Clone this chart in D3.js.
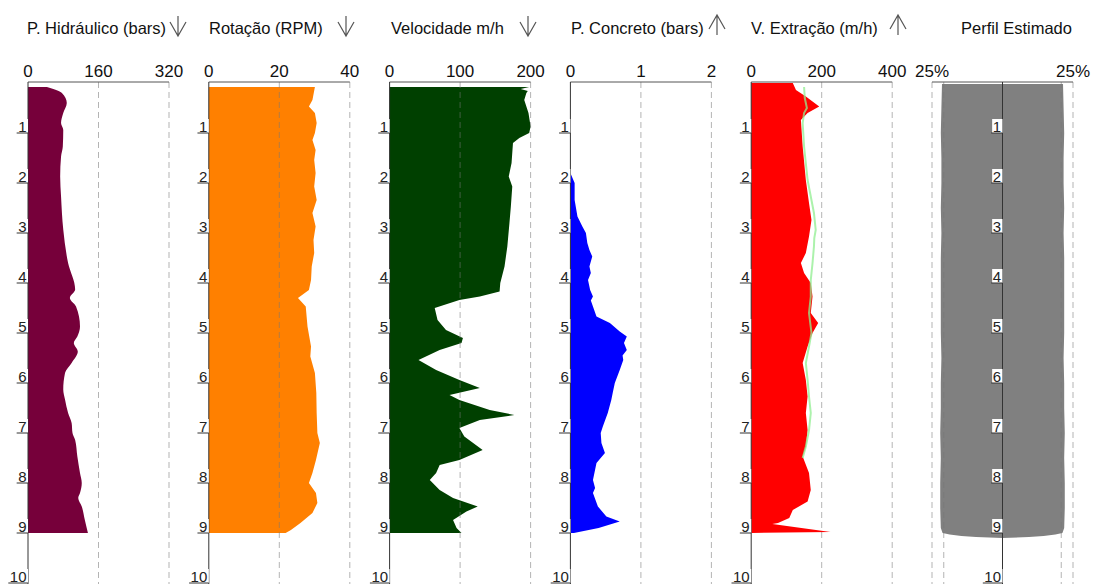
<!DOCTYPE html>
<html>
<head>
<meta charset="utf-8">
<script src="https://cdn.jsdelivr.net/npm/d3@7"></script>
<style>
    body { margin: 0; background: #fff; }
    svg { display: block; font-family: "Liberation Sans", Arial, sans-serif; }
</style>
</head>
<body>
<svg id="chart" width="1099" height="584"></svg>
<script>
const profHidraulico = [0.08, 0.2, 0.4, 0.6, 0.8, 0.94, 1.27, 1.47, 1.87, 2.27, 2.93, 3.6, 4.13, 4.3, 4.47, 4.87, 5.07, 5.2, 5.37, 5.6, 5.8, 6.13, 6.33, 6.6, 6.8, 7.0, 7.14, 7.47, 7.8, 8.0, 8.2, 8.3, 8.47, 8.74, 9.0];
const hidraulico = [43, 77, 88, 80, 75, 80, 79, 75, 73, 75, 80, 91, 107, 95, 109, 118, 112, 104, 113, 99, 84, 80, 84, 91, 99, 101, 107, 112, 118, 122, 118, 114, 122, 129, 136];

const profRotacao = [0.08, 0.34, 0.47, 0.6, 0.8, 1.0, 1.14, 1.34, 1.54, 1.8, 2.07, 2.34, 2.6, 2.87, 3.14, 3.4, 3.67, 3.94, 4.14, 4.3, 4.47, 4.87, 5.27, 5.47, 5.8, 6.2, 6.6, 7.0, 7.2, 7.54, 7.8, 8.0, 8.2, 8.4, 8.6, 8.8, 8.94, 9.0];
const rotacao = [30.1, 29.4, 28.4, 30.1, 30.6, 30.1, 29.4, 30.3, 29.9, 30.3, 29.9, 30.6, 29.4, 30.3, 29.7, 29.9, 29.2, 29.0, 28.4, 25.3, 27.5, 28.0, 29.0, 28.8, 30.1, 30.5, 30.6, 30.8, 31.5, 30.4, 29.4, 28.4, 30.4, 30.8, 29.4, 26.0, 23.3, 21.8];

const profVelocidade = [0.08, 0.12, 0.16, 0.2, 0.34, 0.6, 0.87, 1.0, 1.1, 1.2, 1.6, 1.87, 2.07, 2.47, 2.8, 3.27, 3.67, 4.0, 4.17, 4.27, 4.34, 4.5, 4.74, 4.94, 5.1, 5.2, 5.34, 5.54, 5.74, 5.94, 6.1, 6.24, 6.34, 6.54, 6.64, 6.74, 6.9, 7.07, 7.34, 7.54, 7.64, 7.8, 7.94, 8.14, 8.3, 8.47, 8.57, 8.74, 8.9, 9.0];
const velocidade = [198, 186, 196, 194, 191, 197, 200, 198, 184, 175, 173, 169, 174, 172, 170, 167, 163, 157, 156, 128, 99, 64, 68, 80, 104, 102, 71, 41, 66, 99, 128, 85, 99, 142, 177, 128, 99, 106, 132, 99, 71, 66, 57, 71, 90, 125, 109, 90, 95, 102];

const profConcreto = [1.8, 2.0, 2.34, 2.67, 2.87, 3.0, 3.2, 3.34, 3.47, 3.67, 3.8, 3.94, 4.14, 4.27, 4.35, 4.47, 4.67, 4.8, 4.97, 5.07, 5.2, 5.34, 5.45, 5.54, 5.74, 6.0, 6.2, 6.34, 6.6, 6.87, 7.0, 7.2, 7.4, 7.6, 7.94, 8.1, 8.2, 8.47, 8.67, 8.77, 8.9, 9.0];
const concreto = [0, 0.06, 0.06, 0.1, 0.17, 0.22, 0.24, 0.27, 0.31, 0.27, 0.29, 0.25, 0.28, 0.32, 0.29, 0.32, 0.37, 0.56, 0.7, 0.8, 0.76, 0.8, 0.74, 0.75, 0.7, 0.63, 0.6, 0.58, 0.53, 0.46, 0.43, 0.44, 0.49, 0.37, 0.32, 0.35, 0.32, 0.39, 0.51, 0.7, 0.4, 0.05];

const profExtracao = [0.0, 0.14, 0.27, 0.47, 0.6, 0.74, 1.27, 1.94, 2.4, 2.74, 3.07, 3.4, 3.6, 3.8, 4.0, 4.27, 4.6, 4.8, 5.0, 5.27, 5.6, 5.94, 6.27, 6.6, 6.94, 7.27, 7.47, 7.8, 8.14, 8.37, 8.54, 8.7, 8.8, 8.82, 8.98, 9.0];
const extracao = [118, 127, 155, 193, 160, 141, 146, 155, 164, 171, 164, 155, 141, 150, 169, 174, 169, 190, 174, 160, 146, 155, 160, 155, 160, 155, 146, 164, 169, 160, 118, 108, 76, 60, 225, 0];

const profLinhaExt = [0.08, 0.3, 0.5, 0.6, 0.8, 1.27, 1.94, 2.27, 2.6, 2.94, 3.1, 3.27, 3.6, 3.94, 4.27, 4.6, 5.0, 5.27, 5.6, 5.94, 6.27, 6.6, 6.94, 7.27, 7.5];
const linhaExt = [150, 152, 158, 150, 146, 150, 160, 169, 178, 183, 179, 178, 174, 169, 169, 164, 171, 164, 155, 160, 164, 169, 164, 155, 146];

const profPerfil = [0.02, 0.5, 1.0, 1.5, 2.0, 2.5, 3.0, 3.5, 4.0, 4.5, 5.0, 5.5, 6.0, 6.5, 7.0, 7.5, 8.0, 8.5, 8.9, 9.0, 9.03, 9.06, 9.08, 9.1];
const raioPerfil = [1.03, 1.04, 1.05, 1.04, 1.04, 1.05, 1.04, 1.05, 1.05, 1.05, 1.05, 1.04, 1.05, 1.05, 1.06, 1.05, 1.06, 1.06, 1.05, 1.02, 0.9, 0.7, 0.45, 0];

// eixos
const titulos = ["P. Hidráulico (bars)", "Rotação (RPM)", "Velocidade m/h", "P. Concreto (bars)", "V. Extração (m/h)", "Perfil Estimado"];
const ticksHidraulico = [0, 160, 320];
const ticksRotacao = [0, 20, 40];
const ticksVelocidade = [0, 100, 200];
const ticksConcreto = [0, 1, 2];
const ticksExtracao = [0, 200, 400];
const ticksPerfil = [-1.2, 1.2];
const labelsPerfil = ["25%", "25%"];
const gradePerfil = [-1.2, -1, 1, 1.2];
const profTicks = [1, 2, 3, 4, 5, 6, 7, 8, 9, 10];

const panels = [
    {domain: [0, 320], ticks: ticksHidraulico, color: "#76003a", prof: profHidraulico, vals: hidraulico, curve: d3.curveMonotoneY, arrow: "down", arrowX: 178, titleX: 27},
    {domain: [0, 40], ticks: ticksRotacao, color: "#ff8000", prof: profRotacao, vals: rotacao, curve: d3.curveLinear, arrow: "down", arrowX: 346, titleX: 209},
    {domain: [0, 200], ticks: ticksVelocidade, color: "#004000", prof: profVelocidade, vals: velocidade, curve: d3.curveLinear, arrow: "down", arrowX: 528, titleX: 391},
    {domain: [0, 2], ticks: ticksConcreto, color: "#0000ff", prof: profConcreto, vals: concreto, curve: d3.curveLinear, arrow: "up", arrowX: 717, titleX: 571},
    {domain: [0, 400], ticks: ticksExtracao, color: "#ff0000", prof: profExtracao, vals: extracao, curve: d3.curveLinear, arrow: "up", arrowX: 898, titleX: 751},
    {domain: [-1.2, 1.2], ticks: ticksPerfil, labels: labelsPerfil, grid: gradePerfil, color: "#808080", prof: profPerfil, vals: raioPerfil, curve: d3.curveLinear, arrow: null, titleX: 961, perfil: true}
];

const svg = d3.select("#chart");
const y = d3.scaleLinear().domain([0, 10]).range([83, 583]);
const panelW = 141;
const topY = 82;

panels.forEach(function (p, i) {
    const x0 = 28 + i * 180.8;
    const x = d3.scaleLinear().domain(p.domain).range([x0, x0 + panelW]);
    const g = svg.append("g");
    const rows = p.prof.map(function (d, k) { return {d: d, v: p.vals[k]}; });

    // preenchimento
    const area = d3.area()
        .curve(p.curve)
        .y(function (r) { return y(r.d); })
        .x0(function (r) { return p.perfil ? x(-r.v) : x(0); })
        .x1(function (r) { return x(r.v); });
    g.append("path")
        .datum(rows)
        .attr("d", area)
        .attr("fill", p.color);

    // linha extra (V. Extração)
    if (i === 4) {
        const line = d3.line()
            .x(function (k) { return x(linhaExt[k]); })
            .y(function (k) { return y(profLinhaExt[k]); });
        g.append("path")
            .datum(d3.range(linhaExt.length))
            .attr("d", line)
            .attr("fill", "none")
            .attr("stroke", "#90ee90")
            .attr("stroke-width", 2)
            .attr("stroke-opacity", 0.75);
    }

    // grade tracejada
    const grid = p.grid || p.ticks.slice(1);
    g.selectAll(".grid")
        .data(grid)
        .enter()
        .append("line")
        .attr("x1", function (t) { return x(t); })
        .attr("x2", function (t) { return x(t); })
        .attr("y1", topY)
        .attr("y2", 584)
        .attr("stroke", "#777")
        .attr("stroke-opacity", 0.55)
        .attr("stroke-dasharray", "6,4");

    // eixo superior
    g.append("line")
        .attr("x1", x0).attr("x2", x0 + panelW)
        .attr("y1", topY).attr("y2", topY)
        .attr("stroke", "#555");

    g.selectAll(".tl")
        .data(p.ticks)
        .enter()
        .append("text")
        .attr("x", function (t) { return x(t); })
        .attr("y", 77)
        .attr("text-anchor", "middle")
        .attr("font-size", 17)
        .attr("fill", "#111")
        .text(function (t, k) { return p.labels ? p.labels[k] : t; });

    // eixo de profundidade
    const ax = p.perfil ? x(0) : x0;
    g.append("line")
        .attr("x1", ax).attr("x2", ax)
        .attr("y1", topY).attr("y2", 584)
        .attr("stroke", "#333");

    profTicks.forEach(function (d) {
        const lg = g.append("g");
        const rect = lg.append("rect").attr("fill", "#fff");
        const txt = lg.append("text")
            .attr("x", ax - 1.5)
            .attr("y", y(d) - 1.5)
            .attr("text-anchor", "end")
            .attr("font-size", 15)
            .attr("fill", "#222")
            .text(d);
        const w = txt.node().getComputedTextLength();
        rect.attr("x", ax - w - 2).attr("y", y(d) - 14).attr("width", w + 2).attr("height", 14);
        lg.append("line")
            .attr("x1", ax - w - 3).attr("x2", ax)
            .attr("y1", y(d)).attr("y2", y(d))
            .attr("stroke", "#333");
    });

    // titulo e seta
    svg.append("text")
        .attr("x", p.titleX)
        .attr("y", 34)
        .attr("font-size", 16.5)
        .attr("fill", "#111")
        .text(titulos[i]);

    if (p.arrow) {
        const a = p.arrowX;
        const path = p.arrow === "down"
            ? `M${a},16 L${a},36 M${a - 8},22 L${a},36 L${a + 8},22`
            : `M${a},35 L${a},15 M${a - 8},29 L${a},15 L${a + 8},29`;
        svg.append("path")
            .attr("d", path)
            .attr("fill", "none")
            .attr("stroke", "#555")
            .attr("stroke-width", 1.2);
    }
});
</script>
</body>
</html>
